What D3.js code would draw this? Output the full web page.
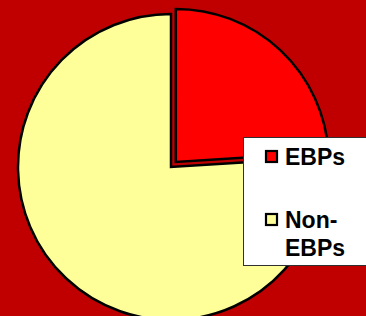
<!DOCTYPE html>
<html><head><meta charset="utf-8">
<script src="https://cdn.jsdelivr.net/npm/d3@7"></script>
<style>html,body{margin:0;padding:0;background:#C00000;overflow:hidden}</style>
</head><body>
<script>
const categories = ["EBPs", "Non-EBPs"];
const values = [24, 76];
const colors = ["#FF0000", "#FFFF99"];
const explode = [7, 0];
const legendLines = [["EBPs"], ["Non-", "EBPs"]];

const W = 366, H = 316;
const svg = d3.select("body").append("svg").attr("width", W).attr("height", H);
svg.append("rect").attr("width", W).attr("height", H).attr("fill", "#C00000");

const cx = 171, cy = 167, r = 153;
const pie = d3.pie().sort(null).value(d => d)(values);
const arc = d3.arc().innerRadius(0).outerRadius(r);
const g = svg.append("g").attr("transform", `translate(${cx},${cy})`);
g.selectAll("path").data(pie).join("path")
  .attr("d", arc)
  .attr("fill", (d, i) => colors[i])
  .attr("stroke", "#000").attr("stroke-width", 2.5).attr("stroke-linejoin", "miter")
  .attr("transform", (d, i) => {
    const a = (d.startAngle + d.endAngle) / 2;
    return `translate(${Math.sin(a) * explode[i]},${-Math.cos(a) * explode[i]})`;
  });

// legend
const lg = svg.append("g");
lg.append("rect").attr("x", 243.5).attr("y", 137.5).attr("width", 140).attr("height", 128)
  .attr("fill", "#fff").attr("stroke", "#303030").attr("stroke-width", 1);
const itemY = [157, 220];
categories.forEach((c, i) => {
  lg.append("rect").attr("x", 266).attr("y", itemY[i] - 6).attr("width", 11).attr("height", 11)
    .attr("fill", colors[i]).attr("stroke", "#000").attr("stroke-width", 2.2);
  const t = lg.append("text").attr("x", 285).attr("y", itemY[i] + 8)
    .attr("font-family", "Liberation Sans, Arial, sans-serif").attr("font-weight", "bold")
    .attr("font-size", 23).attr("fill", "#000");
  legendLines[i].forEach((ln, j) => {
    t.append("tspan").attr("x", 285).attr("dy", j === 0 ? 0 : 28).text(ln);
  });
});
</script>
</body></html>
